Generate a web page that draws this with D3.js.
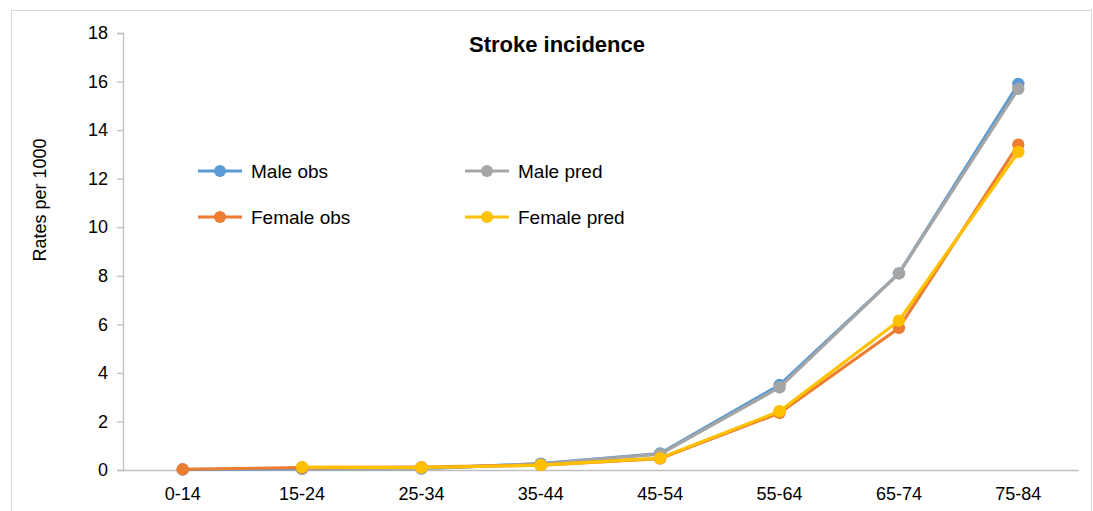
<!DOCTYPE html>
<html>
<head>
<meta charset="utf-8">
<script src="https://cdn.jsdelivr.net/npm/d3@7"></script>
<style>
  body { margin: 0; background: #fff; }
  svg { font-family: "Liberation Sans", Arial, sans-serif; }
</style>
</head>
<body>
<div id="chart"></div>
<script>
// data
const ageGroups = ["0-14", "15-24", "25-34", "35-44", "45-54", "55-64", "65-74", "75-84"];
const maleObs = [0.02, 0.05, 0.06, 0.26, 0.68, 3.5, 8.1, 15.9];
const malePred = [null, 0.05, 0.06, 0.25, 0.65, 3.4, 8.1, 15.7];
const femaleObs = [0.03, 0.1, 0.12, 0.2, 0.47, 2.35, 5.85, 13.4];
const femalePred = [null, 0.12, 0.1, 0.2, 0.49, 2.42, 6.15, 13.1];
const yTicks = [0, 2, 4, 6, 8, 10, 12, 14, 16, 18];

const series = [
    {name: "Male obs", values: maleObs, color: "#5B9BD5"},
    {name: "Male pred", values: malePred, color: "#A5A5A5"},
    {name: "Female obs", values: femaleObs, color: "#ED7D31"},
    {name: "Female pred", values: femalePred, color: "#FFC000"}
];

let width = 1093, height = 511;
let margin = {top: 33, right: 15, bottom: 41, left: 123};

let svg = d3.select("#chart").append("svg")
    .attr("width", width)
    .attr("height", height);

// chart frame
svg.append("rect")
    .attr("x", 11.5).attr("y", 10.5)
    .attr("width", 1080).attr("height", 520)
    .style("fill", "#fff")
    .style("stroke", "#d9d9d9");

let x = d3.scaleBand()
    .domain(ageGroups)
    .range([margin.left, width - margin.right]);

let y = d3.scaleLinear()
    .domain([0, 18])
    .range([height - margin.bottom, margin.top]);

// y axis
let yAxis = svg.append("g")
    .attr("transform", "translate(" + margin.left + ",0)")
    .call(d3.axisLeft(y).tickValues(yTicks).tickSize(6).tickPadding(9));
yAxis.select(".domain").style("stroke", "#bfbfbf").style("stroke-width", "1.3px");
yAxis.selectAll(".tick line").style("stroke", "#bfbfbf").style("stroke-width", "1.3px");
yAxis.selectAll("text").style("font-size", "18px").style("fill", "#000");

// x axis
let xAxis = svg.append("g")
    .attr("transform", "translate(0," + y(0) + ")")
    .call(d3.axisBottom(x).tickSize(0).tickPadding(17));
xAxis.select(".domain").style("stroke", "#bfbfbf").style("stroke-width", "1.3px");
xAxis.selectAll("text").style("font-size", "18px").style("fill", "#000");

let cx = function(i) { return x(ageGroups[i]) + x.bandwidth() / 2; };

let line = d3.line()
    .defined(function(d) { return d != null; })
    .x(function(d, i) { return cx(i); })
    .y(function(d) { return y(d); });

series.forEach(function(s) {
    svg.append("path")
        .datum(s.values)
        .attr("d", line)
        .style("fill", "none")
        .style("stroke", s.color)
        .style("stroke-width", "3.2px")
        .style("stroke-linejoin", "round");

    svg.selectAll(null)
        .data(s.values.map(function(v, i) { return {v: v, i: i}; }).filter(function(d) { return d.v != null; }))
      .enter().append("circle")
        .attr("cx", function(d) { return cx(d.i); })
        .attr("cy", function(d) { return y(d.v); })
        .attr("r", 6.2)
        .style("fill", s.color);
});

// title
svg.append("text")
    .attr("x", 557).attr("y", 52)
    .attr("text-anchor", "middle")
    .style("font-size", "22px")
    .style("font-weight", "bold")
    .text("Stroke incidence");

// y label
svg.append("text")
    .attr("transform", "translate(46,200) rotate(-90)")
    .attr("text-anchor", "middle")
    .style("font-size", "18px")
    .text("Rates per 1000");

// legend
let legendPos = [[198, 171], [465, 171], [198, 217], [465, 217]];
series.forEach(function(s, i) {
    let g = svg.append("g")
        .attr("transform", "translate(" + legendPos[i][0] + "," + legendPos[i][1] + ")");
    g.append("line")
        .attr("x1", 0).attr("x2", 44)
        .style("stroke", s.color)
        .style("stroke-width", "3.2px");
    g.append("circle")
        .attr("cx", 22).attr("r", 6)
        .style("fill", s.color);
    g.append("text")
        .attr("x", 53).attr("dy", "0.35em")
        .style("font-size", "19px")
        .text(s.name);
});
</script>
</body>
</html>
